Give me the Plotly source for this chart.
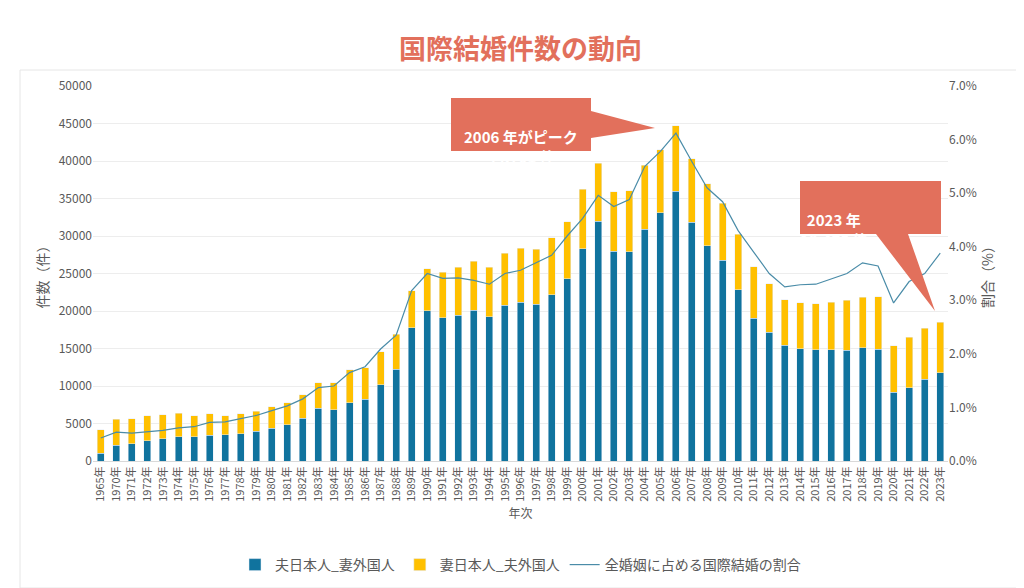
import plotly.graph_objects as go

years = [1965] + list(range(1970, 2024))
labels = [f"{y}年" for y in years]
husband_jp = [1067,2108,2284,2685,2958,3224,3222,3467,3499,3620,3947,4386,4813,5697,7054,6828,7738,8255,10176,12267,17800,20026,19096,19423,20092,19216,20787,21162,20902,22159,24272,28326,31972,27957,27881,30907,33116,35993,31807,28720,26747,22843,19022,17198,15442,14998,14809,14851,14766,15068,14911,9200,9800,10900,11800]
wife_jp = [3089,3438,3338,3332,3228,3135,2823,2843,2565,2667,2685,2875,2943,3126,3375,3594,4443,4187,4408,4621,4913,5600,6063,6439,6565,6616,6940,7210,7349,7595,7628,7937,7755,7922,8158,8537,8365,8708,8465,8249,7646,7364,6912,6459,6046,6132,6167,6329,6691,6784,7008,6200,6700,6800,6675]
ratio = [0.43,0.54,0.52,0.55,0.57,0.62,0.64,0.72,0.73,0.79,0.85,0.94,1.03,1.16,1.37,1.40,1.65,1.76,2.09,2.35,3.18,3.50,3.41,3.42,3.37,3.30,3.50,3.56,3.70,3.84,4.20,4.53,4.96,4.75,4.88,5.50,5.78,6.12,5.60,5.10,4.84,4.30,3.90,3.50,3.25,3.29,3.30,3.40,3.50,3.70,3.64,2.95,3.35,3.50,3.88]

FONT = "Noto Sans CJK JP"
L, R, T, B = 85, 84, 78, 135
W, H = 1024, 588
pw, ph = W - L - R, H - T - B
def px(x): return (x - L) / pw
def py(y): return (H - B - y) / ph

fig = go.Figure()
fig.add_bar(x=labels, y=husband_jp, name="夫日本人_妻外国人", marker_color="#10739E")
fig.add_bar(x=labels, y=wife_jp, name="妻日本人_夫外国人", marker_color="#FFC000")
fig.add_scatter(x=labels, y=ratio, name="全婚姻に占める国際結婚の割合", yaxis="y2",
                mode="lines", line=dict(color="#4A8CA8", width=1.2))

salmon = "#E2705C"
def poly(pts):
    return "M " + " L ".join(f"{px(a)},{py(b)}" for a, b in pts) + " Z"
shapes = [
    dict(type="rect", xref="paper", yref="paper", x0=px(12), x1=px(1012), y0=py(580), y1=py(62),
         line=dict(color="#E6E6E6", width=1), fillcolor="rgba(0,0,0,0)", layer="below"),
    dict(type="path", xref="paper", yref="paper", path=poly([(443,90),(583,90),(583,103),(647,120),(583,130),(583,143),(443,143)]),
         fillcolor=salmon, line=dict(width=0)),
    dict(type="path", xref="paper", yref="paper", path=poly([(792,173),(933,173),(933,226),(900,226),(927,303),(868,226),(792,226)]),
         fillcolor=salmon, line=dict(width=0)),
]
annotations = [
    dict(x=px(513), y=py(116), xref="paper", yref="paper", showarrow=False,
         text="<b>2006 年がピーク<br>44,701 件</b>", font=dict(family=FONT, size=15, color="white")),
    dict(x=px(862), y=py(199), xref="paper", yref="paper", showarrow=False,
         text="<b>2023 年<br>18,475 件</b>", font=dict(family=FONT, size=15, color="white")),
    dict(x=0.5, y=py(18), xref="paper", yref="paper", showarrow=False,
         text="<b>国際結婚件数の動向</b>", font=dict(family=FONT, size=27, color="#E2705C")),
]

fig.update_layout(
    width=W, height=H, margin=dict(l=L, r=R, t=T, b=B, autoexpand=False),
    paper_bgcolor="white", plot_bgcolor="white", barmode="stack", bargap=0.55,
    font=dict(family=FONT, size=12, color="#595959"),
    xaxis=dict(tickangle=-90, title=dict(text="年次", font=dict(size=12), standoff=8), automargin=False,
               showline=True, linecolor="#D9D9D9", tickfont=dict(size=11)),
    yaxis=dict(range=[0, 50000], dtick=5000, tickformat="d", gridcolor="#EDEDED", automargin=False,
               title=dict(text="件数（件）", standoff=6), zeroline=False, tickfont=dict(size=12)),
    yaxis2=dict(range=[0, 7], dtick=1, overlaying="y", side="right", showgrid=False, automargin=False,
                tickformat=".1f", ticksuffix="%", title=dict(text="割合（%）", standoff=6), zeroline=False),
    legend=dict(orientation="h", x=0.5, xanchor="center", yref="container", y=1 - 557 / H, yanchor="middle",
                font=dict(size=14), traceorder="normal"),
    shapes=shapes, annotations=annotations,
)
fig.write_html("out.html")
